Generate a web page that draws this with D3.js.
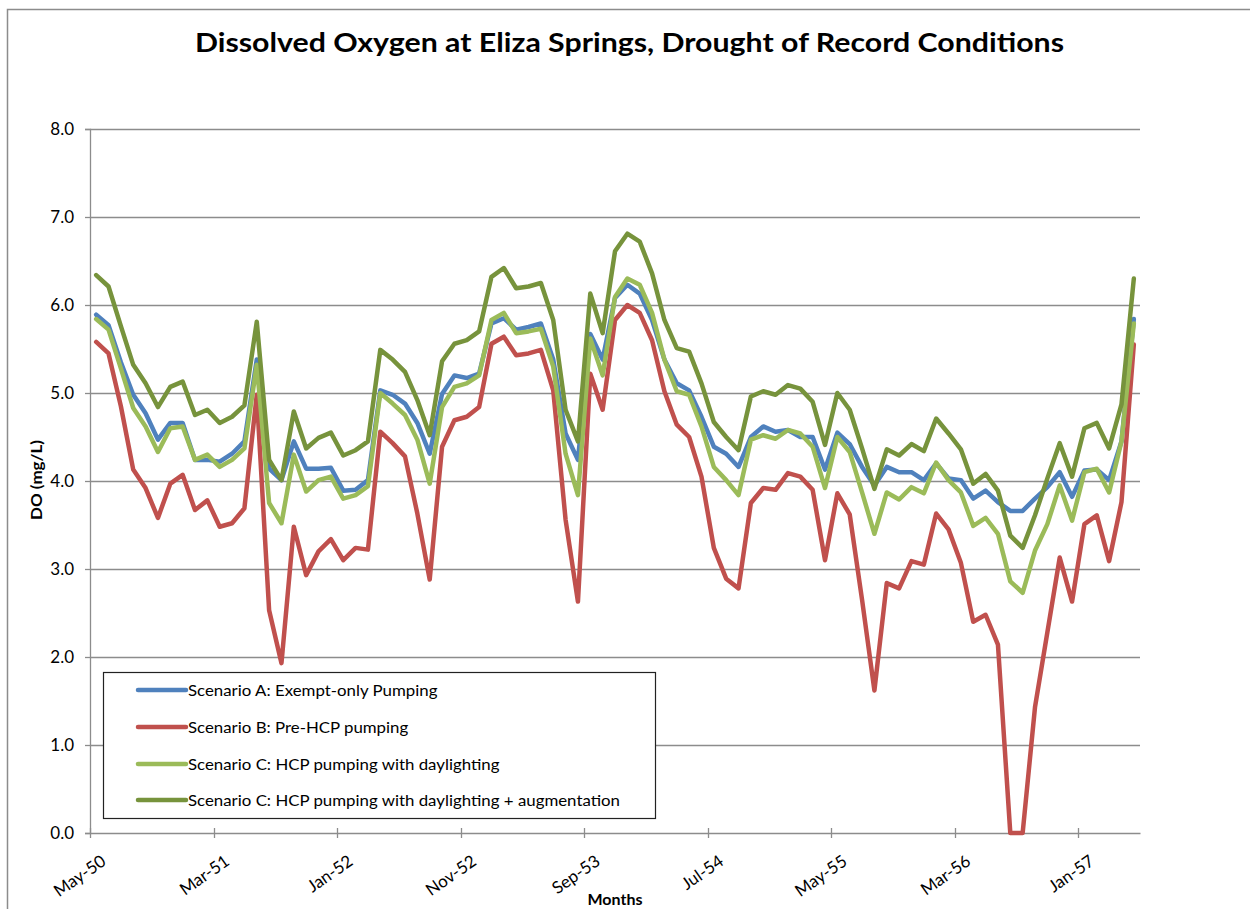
<!DOCTYPE html>
<html>
<head>
<meta charset="utf-8">
<script src="https://cdn.jsdelivr.net/npm/d3@7"></script>
<style>
  html, body { margin: 0; padding: 0; background: #fff; }
  svg { display: block; font-family: Lato, "Open Sans", "Noto Sans", sans-serif; }
</style>
</head>
<body>
<script>
// ---------------- DATA ----------------
const categories = [
  "May-50","Jun-50","Jul-50","Aug-50","Sep-50","Oct-50","Nov-50","Dec-50",
  "Jan-51","Feb-51","Mar-51","Apr-51","May-51","Jun-51","Jul-51","Aug-51","Sep-51","Oct-51","Nov-51","Dec-51",
  "Jan-52","Feb-52","Mar-52","Apr-52","May-52","Jun-52","Jul-52","Aug-52","Sep-52","Oct-52","Nov-52","Dec-52",
  "Jan-53","Feb-53","Mar-53","Apr-53","May-53","Jun-53","Jul-53","Aug-53","Sep-53","Oct-53","Nov-53","Dec-53",
  "Jan-54","Feb-54","Mar-54","Apr-54","May-54","Jun-54","Jul-54","Aug-54","Sep-54","Oct-54","Nov-54","Dec-54",
  "Jan-55","Feb-55","Mar-55","Apr-55","May-55","Jun-55","Jul-55","Aug-55","Sep-55","Oct-55","Nov-55","Dec-55",
  "Jan-56","Feb-56","Mar-56","Apr-56","May-56","Jun-56","Jul-56","Aug-56","Sep-56","Oct-56","Nov-56","Dec-56",
  "Jan-57","Feb-57","Mar-57","Apr-57","May-57"
];

const scenarioA = [
  5.89,5.77,5.35,4.98,4.77,4.47,4.66,4.66,4.24,4.24,
  4.22,4.31,4.45,5.38,4.14,4.01,4.45,4.14,4.14,4.15,
  3.89,3.90,4.01,5.03,4.98,4.88,4.66,4.31,4.99,5.20,
  5.17,5.22,5.79,5.85,5.72,5.75,5.79,5.38,4.54,4.24,
  5.67,5.38,6.08,6.23,6.13,5.83,5.38,5.11,5.03,4.73,
  4.39,4.31,4.16,4.50,4.62,4.56,4.58,4.50,4.50,4.13,
  4.55,4.42,4.16,3.95,4.16,4.10,4.10,4.01,4.20,4.03,
  4.01,3.80,3.89,3.76,3.66,3.66,3.80,3.93,4.10,3.82,
  4.12,4.13,4.01,4.45,5.84
];

const scenarioB = [
  5.58,5.45,4.85,4.13,3.92,3.58,3.97,4.07,3.67,3.78,
  3.48,3.52,3.69,4.98,2.53,1.93,3.48,2.93,3.20,3.34,
  3.10,3.24,3.22,4.56,4.43,4.28,3.63,2.88,4.39,4.69,
  4.73,4.84,5.56,5.64,5.43,5.45,5.49,5.03,3.56,2.63,
  5.22,4.81,5.83,6.00,5.91,5.60,5.02,4.64,4.50,4.05,
  3.24,2.89,2.78,3.75,3.92,3.90,4.09,4.05,3.90,3.10,
  3.86,3.62,2.65,1.62,2.84,2.78,3.09,3.05,3.63,3.45,
  3.07,2.40,2.48,2.14,0.00,0.00,1.43,2.28,3.13,2.63,
  3.51,3.61,3.09,3.76,5.55
];

const scenarioC = [
  5.84,5.72,5.28,4.83,4.62,4.33,4.60,4.62,4.24,4.30,
  4.16,4.24,4.37,5.32,3.75,3.52,4.30,3.88,4.01,4.05,
  3.80,3.84,3.94,5.00,4.88,4.75,4.47,3.97,4.84,5.07,
  5.11,5.20,5.83,5.91,5.68,5.70,5.73,5.30,4.31,3.84,
  5.62,5.20,6.09,6.30,6.23,5.91,5.38,5.02,4.98,4.62,
  4.16,4.01,3.84,4.47,4.52,4.48,4.58,4.54,4.39,3.92,
  4.50,4.33,3.87,3.40,3.87,3.79,3.93,3.86,4.21,4.01,
  3.87,3.49,3.58,3.40,2.86,2.73,3.21,3.51,3.95,3.55,
  4.10,4.14,3.87,4.45,5.79
];

const scenarioCAug = [
  6.34,6.21,5.76,5.32,5.11,4.84,5.07,5.13,4.75,4.81,
  4.66,4.73,4.86,5.81,4.24,4.01,4.79,4.37,4.49,4.55,
  4.29,4.35,4.45,5.49,5.38,5.24,4.92,4.52,5.36,5.56,
  5.60,5.70,6.32,6.42,6.19,6.21,6.25,5.83,4.81,4.45,
  6.13,5.68,6.61,6.81,6.72,6.36,5.83,5.51,5.47,5.11,
  4.67,4.50,4.35,4.96,5.02,4.98,5.09,5.05,4.90,4.41,
  5.00,4.81,4.37,3.91,4.36,4.29,4.42,4.34,4.71,4.54,
  4.36,3.97,4.08,3.89,3.38,3.24,3.61,4.03,4.43,4.05,
  4.60,4.66,4.37,4.87,6.30
];

const seriesNames = [
  "Scenario A: Exempt-only Pumping",
  "Scenario B: Pre-HCP pumping",
  "Scenario C: HCP pumping with daylighting",
  "Scenario C: HCP pumping with daylighting + augmentation"
];
const seriesColors = ["#4F81BD", "#C0504D", "#9BBB59", "#77933C"];
const yTicks = [0, 1, 2, 3, 4, 5, 6, 7, 8];
const xTickLabels = ["May-50","Mar-51","Jan-52","Nov-52","Sep-53","Jul-54","May-55","Mar-56","Jan-57"];

const chartTitle = "Dissolved Oxygen at Eliza Springs, Drought of Record Conditions";
const xTitle = "Months";
const yTitle = "DO (mg/L)";

// ---------------- LAYOUT ----------------
const W = 1250, H = 909;
const plot = { l: 90, r: 1140, t: 129, b: 833 };
const gridColor = "#8c8c8c";

const svg = d3.select("body").append("svg").attr("width", W).attr("height", H);
svg.append("rect").attr("width", W).attr("height", H).attr("fill", "#fff");

// outer chart border (extends past right/bottom edges)
svg.append("rect")
  .attr("x", 7.5).attr("y", 9.5).attr("width", W + 20).attr("height", H + 20)
  .attr("fill", "none").attr("stroke", "#8c8c8c").attr("stroke-width", 1.5);

const x = d3.scaleBand().domain(categories).range([plot.l, plot.r]).padding(0);
const y = d3.scaleLinear().domain([0, 8]).range([plot.b, plot.t]);
const cx = c => x(c) + x.bandwidth() / 2;

// gridlines
svg.append("g").selectAll("line").data(yTicks.filter(t => t > 0)).join("line")
  .attr("x1", plot.l).attr("x2", plot.r)
  .attr("y1", d => Math.round(y(d)) + 0.5).attr("y2", d => Math.round(y(d)) + 0.5)
  .attr("stroke", gridColor).attr("stroke-width", 1.3);

// y axis
const yAxis = svg.append("g").attr("transform", `translate(${plot.l},0)`)
  .call(d3.axisLeft(y).tickValues(yTicks).tickFormat(d3.format(".1f")).tickSize(5).tickPadding(11));
yAxis.select(".domain").attr("stroke", gridColor).attr("stroke-width", 1.3);
yAxis.selectAll(".tick line").attr("stroke", gridColor).attr("stroke-width", 1.3);
yAxis.selectAll(".tick text").attr("font-size", 17).attr("fill", "#000")
  .style("font-family", "Lato, 'Open Sans', sans-serif");

// x axis
const xAxis = svg.append("g").attr("transform", `translate(0,${plot.b})`)
  .call(d3.axisBottom(x).tickValues(xTickLabels).tickSize(0).tickPadding(0));
xAxis.select(".domain").attr("stroke", gridColor).attr("stroke-width", 1.3);
xAxis.selectAll(".tick text")
  .attr("font-size", 17).attr("fill", "#000")
  .style("font-family", "Lato, 'Open Sans', sans-serif")
  .attr("text-anchor", "end")
  .attr("y", 0).attr("dy", "0.71em")
  .attr("transform", "translate(4,21) rotate(-35)");
// tick marks at category boundaries
svg.append("g").selectAll("line").data(xTickLabels).join("line")
  .attr("x1", d => Math.round(x(d)) + 0.5).attr("x2", d => Math.round(x(d)) + 0.5)
  .attr("y1", plot.b - 5).attr("y2", plot.b + 5)
  .attr("stroke", gridColor).attr("stroke-width", 1.3);

// series lines
const allSeries = [scenarioA, scenarioB, scenarioC, scenarioCAug];
const line = d3.line().x((d, i) => cx(categories[i])).y(d => y(d));
svg.append("g").selectAll("path").data(allSeries).join("path")
  .attr("d", d => line(d))
  .attr("fill", "none")
  .attr("stroke", (d, i) => seriesColors[i])
  .attr("stroke-width", 4.5)
  .attr("stroke-linejoin", "round")
  .attr("stroke-linecap", "round");

// title
svg.append("text")
  .attr("x", 629.5).attr("y", 52)
  .attr("text-anchor", "middle")
  .attr("font-size", 26).attr("font-weight", "bold").attr("fill", "#000")
  .attr("textLength", 869).attr("lengthAdjust", "spacingAndGlyphs")
  .text(chartTitle);

// axis titles
svg.append("text")
  .attr("x", 615).attr("y", 905)
  .attr("text-anchor", "middle")
  .attr("font-size", 16).attr("font-weight", "bold").attr("fill", "#000")
  .text(xTitle);
svg.append("text")
  .attr("transform", "translate(42,480) rotate(-90)")
  .attr("text-anchor", "middle")
  .attr("font-size", 16).attr("font-weight", "bold").attr("fill", "#000")
  .attr("textLength", 80).attr("lengthAdjust", "spacingAndGlyphs")
  .text(yTitle);

// legend
const legend = svg.append("g");
legend.append("rect")
  .attr("x", 103.5).attr("y", 672.5).attr("width", 552).attr("height", 146)
  .attr("fill", "#fff").attr("stroke", "#222").attr("stroke-width", 1.2);
const legendY = [690, 727, 764, 800];
const items = legend.selectAll("g.item").data(seriesNames).join("g").attr("class", "item")
  .attr("transform", (d, i) => `translate(0,${legendY[i]})`);
items.append("line")
  .attr("x1", 138).attr("x2", 186).attr("y1", 0).attr("y2", 0)
  .attr("stroke", (d, i) => seriesColors[i]).attr("stroke-width", 4.5)
  .attr("stroke-linecap", "round");
const legendTexts = items.append("text")
  .attr("x", 188).attr("y", 6)
  .attr("font-size", 16).attr("fill", "#000")
  .text(d => d);
// condense legend text horizontally to match the narrow original face
const longest = legendTexts.nodes()[3].getComputedTextLength();
const factor = 432 / longest;
legendTexts.each(function () {
  const w = this.getComputedTextLength();
  d3.select(this).attr("textLength", w * factor).attr("lengthAdjust", "spacingAndGlyphs");
});
</script>
</body>
</html>
